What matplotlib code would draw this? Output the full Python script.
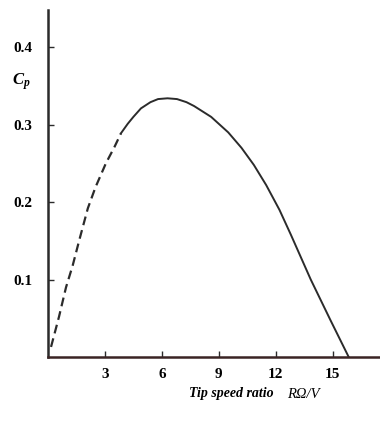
import matplotlib.pyplot as plt

# values
dashed_x = [0.16, 0.58, 0.95, 1.3, 1.65, 2.1, 2.5, 3.05, 3.5, 3.85]
dashed_cp = [0.013, 0.052, 0.09, 0.118, 0.151, 0.192, 0.219, 0.25, 0.271, 0.289]
solid_x = [3.85, 4.2, 4.5, 4.9, 5.4, 5.8, 6.3, 6.8, 7.3, 7.7, 8.6, 9.5, 10.2, 10.85, 11.5, 12.2,
           12.8, 13.85, 14.9, 15.85]
solid_cp = [0.289, 0.301, 0.31, 0.321, 0.329, 0.333, 0.334, 0.333, 0.329, 0.324, 0.31, 0.29, 0.27,
            0.248, 0.222, 0.19, 0.158, 0.1, 0.047, 0.0]
x_ticks = [3, 6, 9, 12, 15]
y_ticks = [0.1, 0.2, 0.3, 0.4]

serif = ['Liberation Serif', 'DejaVu Serif']
ink = '#2b2b2b'

plt.rcParams['mathtext.fontset'] = 'custom'
plt.rcParams['mathtext.it'] = 'Liberation Serif:italic:bold'
plt.rcParams['mathtext.rm'] = 'Liberation Serif:bold'

fig = plt.figure(figsize=(3.8, 4.21), dpi=100)
ax = fig.add_axes([48 / 380, 64 / 421, 332 / 380, 347 / 421])

ax.plot(dashed_x, dashed_cp, color=ink, lw=1.6, dashes=(4, 2.3), solid_joinstyle='round')
ax.plot(solid_x, solid_cp, color=ink, lw=1.4, solid_joinstyle='round')

ax.set_xlim(0, 17.5)
ax.set_ylim(0, 0.448)

for side in ['top', 'right']:
    ax.spines[side].set_visible(False)
ax.spines['left'].set_linewidth(1.8)
ax.spines['bottom'].set_linewidth(1.8)
ax.spines['left'].set_color(ink)
ax.spines['bottom'].set_color('#3a2424')

ax.set_xticks(x_ticks)
ax.set_yticks(y_ticks)
ax.set_xticklabels([str(t) for t in x_ticks], family=serif, fontweight='bold', fontsize=11)
ax.set_yticklabels([f'{t:.1f}' for t in y_ticks], family=serif, fontweight='bold', fontsize=11)
ax.tick_params(axis='y', direction='in', length=4, width=1, color=ink, pad=11)
ax.tick_params(axis='x', direction='in', length=4, width=1, color=ink, pad=8)

fig.text(12 / 380, 1 - 82 / 421, r'$C_p$', fontsize=12, va='center', ha='left')
fig.text(189 / 380, 1 - 394 / 421, 'Tip speed ratio', family=serif, style='italic',
         fontweight='bold', fontsize=10, va='center', ha='left')
fig.text(287 / 380, 1 - 394 / 421, 'RΩ/V', family=serif, style='italic',
         fontsize=10.5, va='center', ha='left')

fig.savefig('out.png', dpi=100)
